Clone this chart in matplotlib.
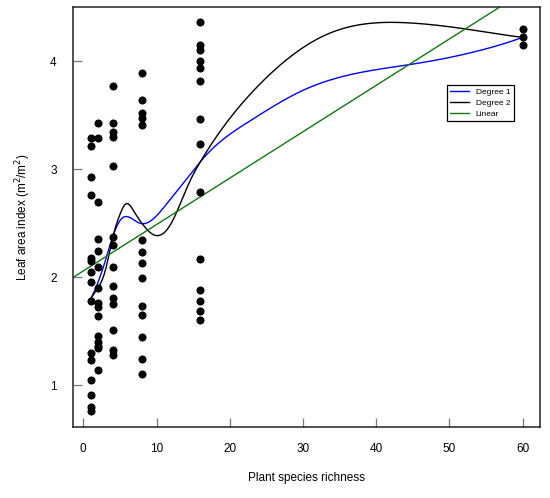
import numpy as np
import matplotlib
matplotlib.use("Agg")
from matplotlib import pyplot as plt

plt.rcParams['font.family'] = ['Liberation Sans', 'DejaVu Sans']

# observed leaf area index per richness level
richness_levels = [1, 2, 4, 8, 16, 60]
lai_1 = [3.29, 3.21, 2.93, 2.76, 2.18, 2.15, 2.05, 1.96, 1.78, 1.30, 1.23, 1.05, 0.91, 0.80, 0.76]
lai_2 = [3.43, 3.29, 2.70, 2.35, 2.24, 2.09, 1.90, 1.76, 1.72, 1.64, 1.46, 1.40, 1.36, 1.34, 1.14]
lai_4 = [3.77, 3.43, 3.34, 3.30, 3.03, 2.37, 2.30, 2.09, 1.92, 1.81, 1.75, 1.51, 1.33, 1.28]
lai_8 = [3.89, 3.64, 3.52, 3.47, 3.41, 2.34, 2.23, 2.13, 1.99, 1.73, 1.65, 1.45, 1.24, 1.10]
lai_16 = [4.36, 4.15, 4.10, 4.00, 3.94, 3.82, 3.46, 3.23, 2.79, 2.17, 1.88, 1.78, 1.69, 1.60]
lai_60 = [4.30, 4.22, 4.15]

# smoother curves
deg1_x = [1, 2, 3, 4, 5.2, 7.7, 11.75, 14.5, 16, 22.6, 30, 45.65, 54.2, 60]
deg1_y = [1.80, 1.95, 2.15, 2.37, 2.54, 2.50, 2.71, 2.94, 3.07, 3.44, 3.73, 3.98, 4.10, 4.22]
deg2_x = [1, 2, 3, 4, 5, 5.86, 7, 8, 9.7, 11.75, 14.5, 16, 24, 33, 44.3, 52, 60]
deg2_y = [1.80, 1.90, 2.06, 2.36, 2.58, 2.68, 2.60, 2.50, 2.39, 2.47, 2.88, 3.07, 3.78, 4.24,
          4.355, 4.30, 4.22]

groups = [lai_1, lai_2, lai_4, lai_8, lai_16, lai_60]
x_pts = np.concatenate([[lv] * len(g) for lv, g in zip(richness_levels, groups)])
y_pts = np.concatenate(groups)


def fmm_spline(x, y, xout):
    # cubic spline with Forsythe-Malcolm-Moler end conditions (like R's spline())
    x = np.asarray(x, float)
    y = np.asarray(y, float)
    n = len(x)
    nm1 = n - 1
    b = np.zeros(n)
    c = np.zeros(n)
    d = np.zeros(n)
    d[0] = x[1] - x[0]
    c[1] = (y[1] - y[0]) / d[0]
    for i in range(1, nm1):
        d[i] = x[i + 1] - x[i]
        b[i] = 2.0 * (d[i - 1] + d[i])
        c[i + 1] = (y[i + 1] - y[i]) / d[i]
        c[i] = c[i + 1] - c[i]
    b[0] = -d[0]
    b[nm1] = -d[n - 2]
    c[0] = c[nm1] = 0.0
    if n > 3:
        c[0] = c[2] / (x[3] - x[1]) - c[1] / (x[2] - x[0])
        c[nm1] = c[n - 2] / (x[nm1] - x[n - 3]) - c[n - 3] / (x[n - 2] - x[n - 4])
        c[0] = c[0] * d[0] * d[0] / (x[3] - x[0])
        c[nm1] = -c[nm1] * d[n - 2] * d[n - 2] / (x[nm1] - x[n - 4])
    for i in range(1, n):
        t = d[i - 1] / b[i - 1]
        b[i] = b[i] - t * d[i - 1]
        c[i] = c[i] - t * c[i - 1]
    c[nm1] = c[nm1] / b[nm1]
    for i in range(n - 2, -1, -1):
        c[i] = (c[i] - d[i] * c[i + 1]) / b[i]
    b[nm1] = (y[nm1] - y[n - 2]) / d[n - 2] + d[n - 2] * (c[n - 2] + 2.0 * c[nm1])
    for i in range(nm1):
        b[i] = (y[i + 1] - y[i]) / d[i] - d[i] * (c[i + 1] + 2.0 * c[i])
        d[i] = (c[i + 1] - c[i]) / d[i]
        c[i] = 3.0 * c[i]
    c[nm1] = 3.0 * c[nm1]
    d[nm1] = d[n - 2]
    idx = np.clip(np.searchsorted(x, xout, side='right') - 1, 0, nm1)
    dx = xout - x[idx]
    return y[idx] + dx * (b[idx] + dx * (c[idx] + dx * d[idx]))


xs = np.linspace(richness_levels[0], richness_levels[-1], 800)
slope, intercept = np.polyfit(x_pts, y_pts, 1)

fig = plt.figure(figsize=(5.5, 4.98), dpi=100)
ax = fig.add_axes([0.1333, 0.1432, 0.8485, 0.8433])

ax.plot(x_pts, y_pts, 'o', color='black', ms=4.8, zorder=3)
ax.plot(xs, fmm_spline(deg1_x, deg1_y, xs), color='blue', lw=1.0, label='Degree 1')
ax.plot(xs, fmm_spline(deg2_x, deg2_y, xs), color='black', lw=1.0, label='Degree 2')
ax.axline((0, intercept), slope=slope, color='#117711', lw=1.0, label='Linear')

ax.set_xlim(-1.36, 62.36)
ax.set_ylim(0.616, 4.504)
ax.set_xticks([0, 10, 20, 30, 40, 50, 60])
ax.set_yticks([1, 2, 3, 4])
ax.tick_params(direction='in', length=6.5, width=0.9, color='#777777', labelsize=8.5, pad=12)
for s in ax.spines.values():
    s.set_color('#222222')
    s.set_linewidth(1.1)

ax.set_xlabel('Plant species richness', fontsize=8.5, labelpad=12)
ax.set_ylabel('Leaf area index (m$^2$/m$^2$)', fontsize=8.5, labelpad=12)

leg = ax.legend(loc='upper left', bbox_to_anchor=(0.80, 0.814), borderaxespad=0,
                fontsize=6, handlelength=2.3, labelspacing=0.35, fancybox=False,
                framealpha=1, edgecolor='black')
leg.get_frame().set_linewidth(0.9)

fig.savefig('out.png', dpi=100)
